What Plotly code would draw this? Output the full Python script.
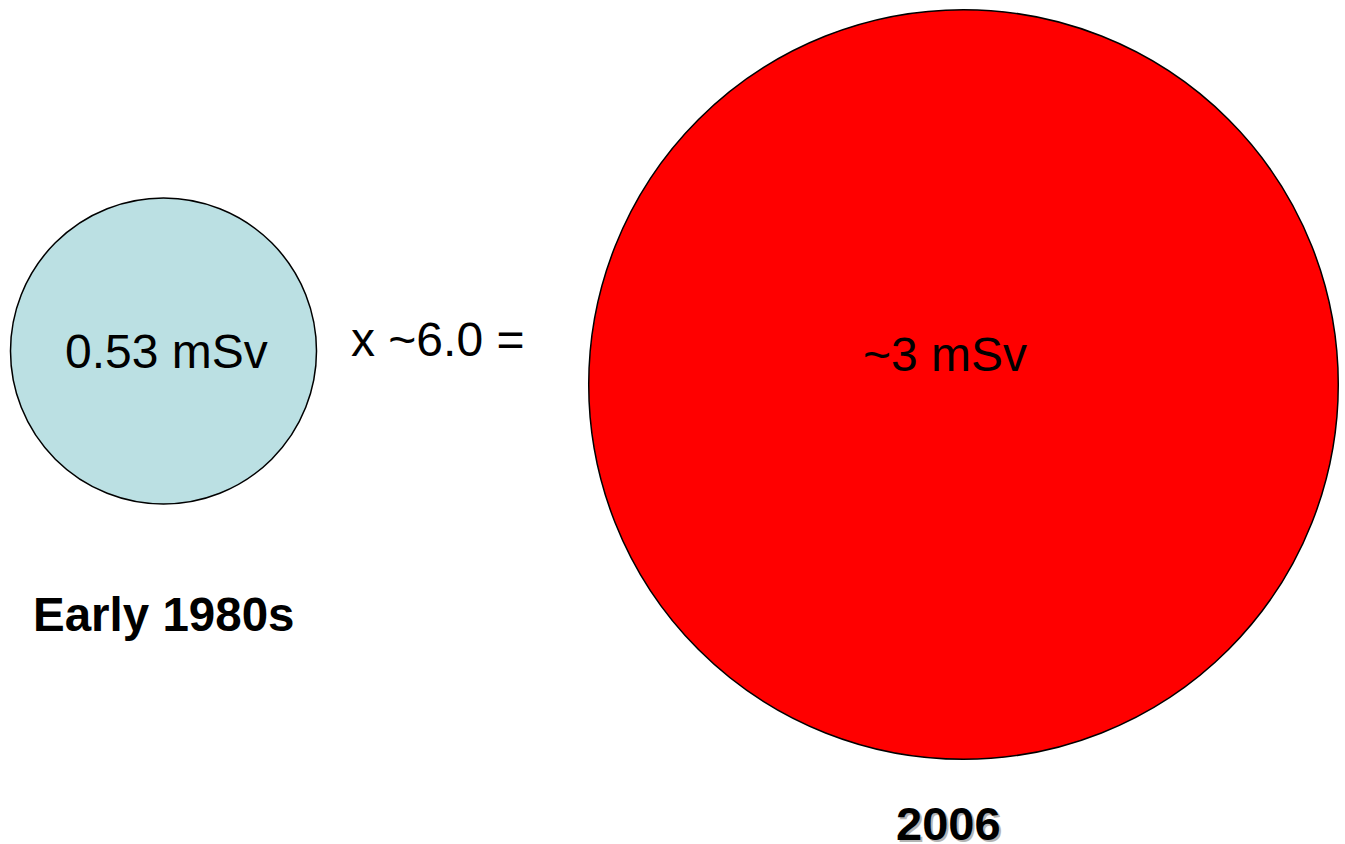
import math
import plotly.graph_objects as go

# Data
periods = ["Early 1980s", "2006"]
dose_labels = ["0.53 mSv", "~3 mSv"]
dose_early = 0.53
multiplier = 6.0
doses = [dose_early, dose_early * multiplier]
multiplier_label = "x ~6.0 ="

# Layout (pixel coordinates, y downward)
W, H = 1345, 844
centers = [(163.5, 351.0), (963.5, 384.5)]
r_base = 153.0
k = r_base / math.sqrt(doses[0])
radii = [k * math.sqrt(d) for d in doses]
fills = ["#BBE0E3", "#FF0000"]

font_family = "Arial, Liberation Sans, sans-serif"

fig = go.Figure()
fig.add_trace(go.Scatter(x=[0, W], y=[0, H], mode="markers",
                         marker=dict(opacity=0), hoverinfo="skip", showlegend=False))

shapes = []
for (cx, cy), r, c in zip(centers, radii, fills):
    shapes.append(dict(type="circle", xref="x", yref="y",
                       x0=cx - r, x1=cx + r, y0=cy - r, y1=cy + r,
                       fillcolor=c, line=dict(color="black", width=1.5), layer="below"))

annotations = []
label_pos = [(166, 351), (945, 354)]
for (x, y), t in zip(label_pos, dose_labels):
    annotations.append(dict(x=x, y=y, xref="x", yref="y", text=t, showarrow=False,
                            font=dict(family=font_family, size=48, color="black"),
                            xanchor="center", yanchor="middle"))
annotations.append(dict(x=437, y=339, xref="x", yref="y", text=multiplier_label,
                        showarrow=False, font=dict(family=font_family, size=48, color="black"),
                        xanchor="center", yanchor="middle"))
# period labels
annotations.append(dict(x=163, y=614, xref="x", yref="y", text="<b>%s</b>" % periods[0],
                        showarrow=False, font=dict(family=font_family, size=47.5, color="black"),
                        xanchor="center", yanchor="middle"))
# shadow for 2006
annotations.append(dict(x=950.5, y=825.5, xref="x", yref="y", text="<b>%s</b>" % periods[1],
                        showarrow=False, font=dict(family=font_family, size=47, color="#B4B4B4"),
                        xanchor="center", yanchor="middle"))
annotations.append(dict(x=948, y=823, xref="x", yref="y", text="<b>%s</b>" % periods[1],
                        showarrow=False, font=dict(family=font_family, size=47, color="black"),
                        xanchor="center", yanchor="middle"))

fig.update_layout(
    width=W, height=H, autosize=False,
    margin=dict(l=0, r=0, t=0, b=0),
    paper_bgcolor="white", plot_bgcolor="white",
    xaxis=dict(range=[0, W], visible=False, fixedrange=True),
    yaxis=dict(range=[H, 0], visible=False, fixedrange=True),
    shapes=shapes, annotations=annotations, showlegend=False,
)

fig.write_html("out.html", config={"displayModeBar": False},
               post_script="document.body.style.margin='0';document.body.style.overflow='hidden';")
